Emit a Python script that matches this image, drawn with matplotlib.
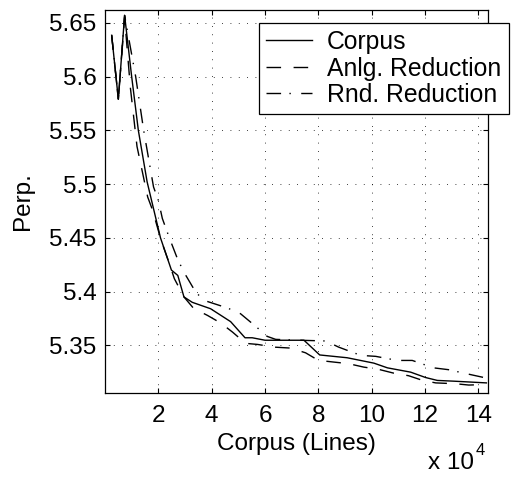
import matplotlib
matplotlib.use("Agg")
import matplotlib.pyplot as plt
import numpy as np
from matplotlib.ticker import FixedLocator, FuncFormatter

plt.rcParams['font.family'] = ['Liberation Sans', 'DejaVu Sans']

# Data (x in lines, y perplexity)
corpus_x = [2500, 5000, 7350, 10000, 12500, 15800, 20800, 24900, 27300, 29600, 32700,
            39600, 47100, 52500, 55200, 60000, 74600, 80500, 90800, 100800, 105900,
            114600, 120200, 124600, 130800, 143000]
corpus_y = [5.6385, 5.579, 5.657, 5.600, 5.550, 5.502, 5.450, 5.420, 5.415, 5.395, 5.390,
            5.384, 5.372, 5.357, 5.357, 5.3547, 5.3547, 5.341, 5.3384, 5.3334, 5.329,
            5.325, 5.320, 5.3173, 5.3166, 5.315]

anlg_x = [2500, 5000, 7350, 9500, 12000, 16000, 17800, 21000, 24000, 26000, 29600,
          33200, 38500, 43400, 47800, 52700, 57200, 63300, 69600, 75200, 80000,
          85700, 91300, 97000, 102600, 108200, 113800, 119000, 124000, 131500, 136400, 143000]
anlg_y = [5.6385, 5.579, 5.655, 5.590, 5.535, 5.488, 5.476, 5.448, 5.427, 5.412, 5.395,
          5.3844, 5.3777, 5.3707, 5.3623, 5.3518, 5.3508, 5.3483, 5.3474, 5.343, 5.336,
          5.3344, 5.3329, 5.3297, 5.3276, 5.3241, 5.3217, 5.3174, 5.315, 5.3142, 5.313, 5.3135]

rnd_x = [2500, 5000, 7350, 11500, 14500, 18200, 20000, 21500, 24000, 27100, 29600,
         34000, 37100, 45900, 50800, 56800, 60800, 64000, 74500, 82800, 87600,
         95900, 101500, 109600, 115200, 123200, 128800, 137100, 143000]
rnd_y = [5.6385, 5.579, 5.657, 5.600, 5.550, 5.4973, 5.4849, 5.468, 5.4508, 5.4309, 5.418,
         5.3995, 5.3918, 5.3847, 5.3794, 5.367, 5.3583, 5.3555, 5.3546, 5.354, 5.3483,
         5.3406, 5.3397, 5.3359, 5.3359, 5.329, 5.3273, 5.3227, 5.3195]

series_labels = ["Corpus", "Anlg. Reduction", "Rnd. Reduction"]
xticks = [20000, 40000, 60000, 80000, 100000, 120000, 140000]
yticks = [5.35, 5.4, 5.45, 5.5, 5.55, 5.6, 5.65]
ytick_labels = ["5.35", "5.4", "5.45", "5.5", "5.55", "5.6", "5.65"]

fig = plt.figure(figsize=(5.25, 4.78), dpi=100)
ax = fig.add_axes([105/525, 1-393/478, (488-105)/525, (393-10)/478])

lw = 1.0
ax.plot(corpus_x, corpus_y, color='black', lw=lw, linestyle='-', label=series_labels[0])
l2, = ax.plot(anlg_x, anlg_y, color='black', lw=lw, label=series_labels[1])
l2.set_dashes([10.5, 9])
l3, = ax.plot(rnd_x, rnd_y, color='black', lw=lw, label=series_labels[2])
l3.set_dashes([10.5, 6, 1, 7.5])

ax.set_xlim(0, 143600)
ax.set_ylim(5.3056, 5.662)

ax.xaxis.set_major_locator(FixedLocator(xticks))
ax.xaxis.set_major_formatter(FuncFormatter(lambda v, p: "%d" % round(v/1e4)))
ax.yaxis.set_major_locator(FixedLocator(yticks))
ax.set_yticklabels(ytick_labels)

ax.grid(True, color='black', lw=0.6, linestyle=(0, (1, 9)))
ax.tick_params(direction='in', length=3.6, width=0.8, top=True, right=True,
               labelsize=17.5)
ax.tick_params(axis='x', pad=9)
ax.tick_params(axis='y', pad=6)
for s in ax.spines.values():
    s.set_linewidth(0.9)

ax.set_xlabel("Corpus (Lines)", fontsize=17.5, labelpad=4)
ax.set_ylabel("Perp.", fontsize=17.5, labelpad=11)

leg = ax.legend(loc='upper left', bbox_to_anchor=((259-105)/383, (393-22.7)/383),
                fontsize=17.8, frameon=True, fancybox=False, framealpha=1,
                edgecolor='black', borderaxespad=0, borderpad=0.3,
                handlelength=1.85, handletextpad=0.6, labelspacing=0.1)
leg.get_frame().set_linewidth(0.9)
leg.set_clip_on(False)

fig.text(428/525, 1-469/478, "x 10", fontsize=17.5, ha='left', va='baseline')
fig.text(476/525, 1-455/478, "4", fontsize=12, ha='left', va='baseline')

fig.savefig("out.png", dpi=100)
